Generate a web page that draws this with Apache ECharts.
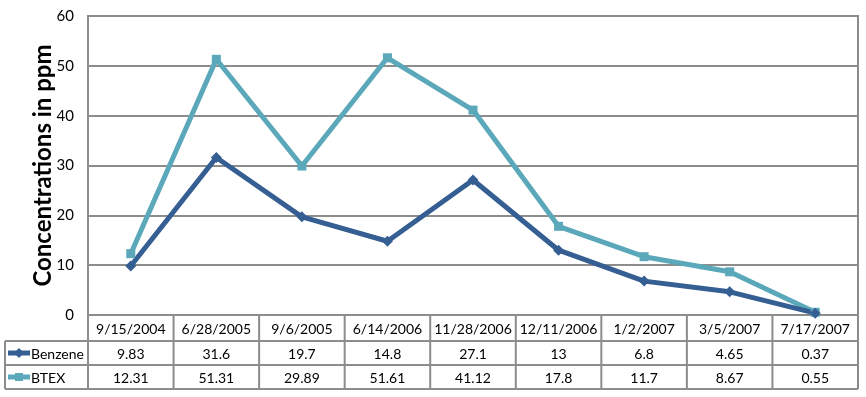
<!DOCTYPE html>
<html>
<head>
<meta charset="utf-8">
<script src="https://cdn.jsdelivr.net/npm/echarts@6/dist/echarts.min.js"></script>
<style>
  html, body { margin: 0; padding: 0; background: #fff; }
  #chart { width: 866px; height: 397px; }
</style>
</head>
<body>
<div id="chart"></div>
<script>
//----------------------Data----------------------
let dates = ["9/15/2004", "6/28/2005", "9/6/2005", "6/14/2006", "11/28/2006", "12/11/2006", "1/2/2007", "3/5/2007", "7/17/2007"];
let benzene = [9.83, 31.6, 19.7, 14.8, 27.1, 13, 6.8, 4.65, 0.37];
let btex = [12.31, 51.31, 29.89, 51.61, 41.12, 17.8, 11.7, 8.67, 0.55];
let yTicks = [0, 10, 20, 30, 40, 50, 60];
let seriesNames = ["Benzene", "BTEX"];
let seriesColors = ["#355E93", "#5AA8BA"];
//--------------------Location--------------------
let W = 866, H = 397;
let gridLeft = 88, gridRight = 8, gridTop = 16, gridBottom = 82;
let plotW = W - gridLeft - gridRight;
let plotBottom = H - gridBottom;
let colW = plotW / dates.length;
let tableLeft = 5;
let rowTops = [plotBottom, plotBottom + 26, plotBottom + 50, plotBottom + 74];
let borderColor = "#8C8C8C";
let fontFam = "Lato, 'Noto Sans', sans-serif";

let chart = echarts.init(document.getElementById("chart"), null, {renderer: "canvas"});

//---------------------Table graphic---------------------
let table = [];
// horizontal lines
table.push({type: "line", shape: {x1: gridLeft, y1: rowTops[0], x2: W - gridRight, y2: rowTops[0]}, style: {stroke: borderColor, lineWidth: 2}});
for (let r = 1; r < rowTops.length; r++) {
    table.push({type: "line", shape: {x1: tableLeft, y1: rowTops[r], x2: W - gridRight, y2: rowTops[r]}, style: {stroke: borderColor, lineWidth: 2}});
}
// vertical lines
table.push({type: "line", shape: {x1: tableLeft, y1: rowTops[1], x2: tableLeft, y2: rowTops[3]}, style: {stroke: borderColor, lineWidth: 2}});
for (let c = 0; c <= dates.length; c++) {
    let x = gridLeft + c * colW;
    table.push({type: "line", shape: {x1: x, y1: rowTops[0], x2: x, y2: rowTops[3]}, style: {stroke: borderColor, lineWidth: 2}});
}
// texts
let rows = [dates, benzene, btex];
for (let r = 0; r < rows.length; r++) {
    for (let c = 0; c < dates.length; c++) {
        table.push({
            type: "text",
            x: gridLeft + (c + 0.5) * colW,
            y: (rowTops[r] + rowTops[r + 1]) / 2 + 1,
            style: {text: String(rows[r][c]), fill: "#000", font: "14px " + fontFam, align: "center", verticalAlign: "middle"}
        });
    }
}
// legend keys
for (let s = 0; s < seriesNames.length; s++) {
    let cy = (rowTops[s + 1] + rowTops[s + 2]) / 2;
    table.push({type: "line", shape: {x1: 8, y1: cy, x2: 30, y2: cy}, style: {stroke: seriesColors[s], lineWidth: 5}});
    if (s === 0) {
        table.push({type: "polygon", shape: {points: [[19, cy - 5], [24, cy], [19, cy + 5], [14, cy]]}, style: {fill: seriesColors[s]}});
    } else {
        table.push({type: "rect", shape: {x: 15, y: cy - 4, width: 8, height: 8}, style: {fill: seriesColors[s]}});
    }
    table.push({type: "text", x: 31, y: cy + 1, style: {text: seriesNames[s], fill: "#000", font: "14px " + fontFam, align: "left", verticalAlign: "middle"}});
}

//------------------Generate Graph------------------
let option = {
    backgroundColor: "#fff",
    animation: false,
    grid: {
        left: gridLeft, right: gridRight, top: gridTop, bottom: gridBottom,
        show: true, borderColor: borderColor, borderWidth: 2
    },
    xAxis: {
        type: "category",
        data: dates,
        boundaryGap: true,
        axisLine: {show: false},
        axisTick: {show: false},
        axisLabel: {show: false}
    },
    yAxis: {
        type: "value",
        min: yTicks[0],
        max: yTicks[yTicks.length - 1],
        interval: 10,
        name: "Concentrations in ppm",
        nameLocation: "middle",
        nameGap: 33,
        nameMoveOverlap: false,
        nameTextStyle: {fontSize: 24, fontWeight: "bold", color: "#000", fontFamily: fontFam},
        axisLine: {show: false},
        axisTick: {show: false},
        axisLabel: {fontSize: 15, color: "#000", margin: 14, fontFamily: fontFam},
        splitLine: {lineStyle: {color: borderColor, width: 2}}
    },
    series: [
        {
            name: seriesNames[1], type: "line", data: btex,
            symbol: "rect", symbolSize: 9,
            lineStyle: {color: seriesColors[1], width: 5},
            itemStyle: {color: seriesColors[1]}
        },
        {
            name: seriesNames[0], type: "line", data: benzene,
            symbol: "diamond", symbolSize: 11,
            lineStyle: {color: seriesColors[0], width: 5},
            itemStyle: {color: seriesColors[0]}
        }
    ],
    graphic: table
};
chart.setOption(option, true);
</script>
</body>
</html>
